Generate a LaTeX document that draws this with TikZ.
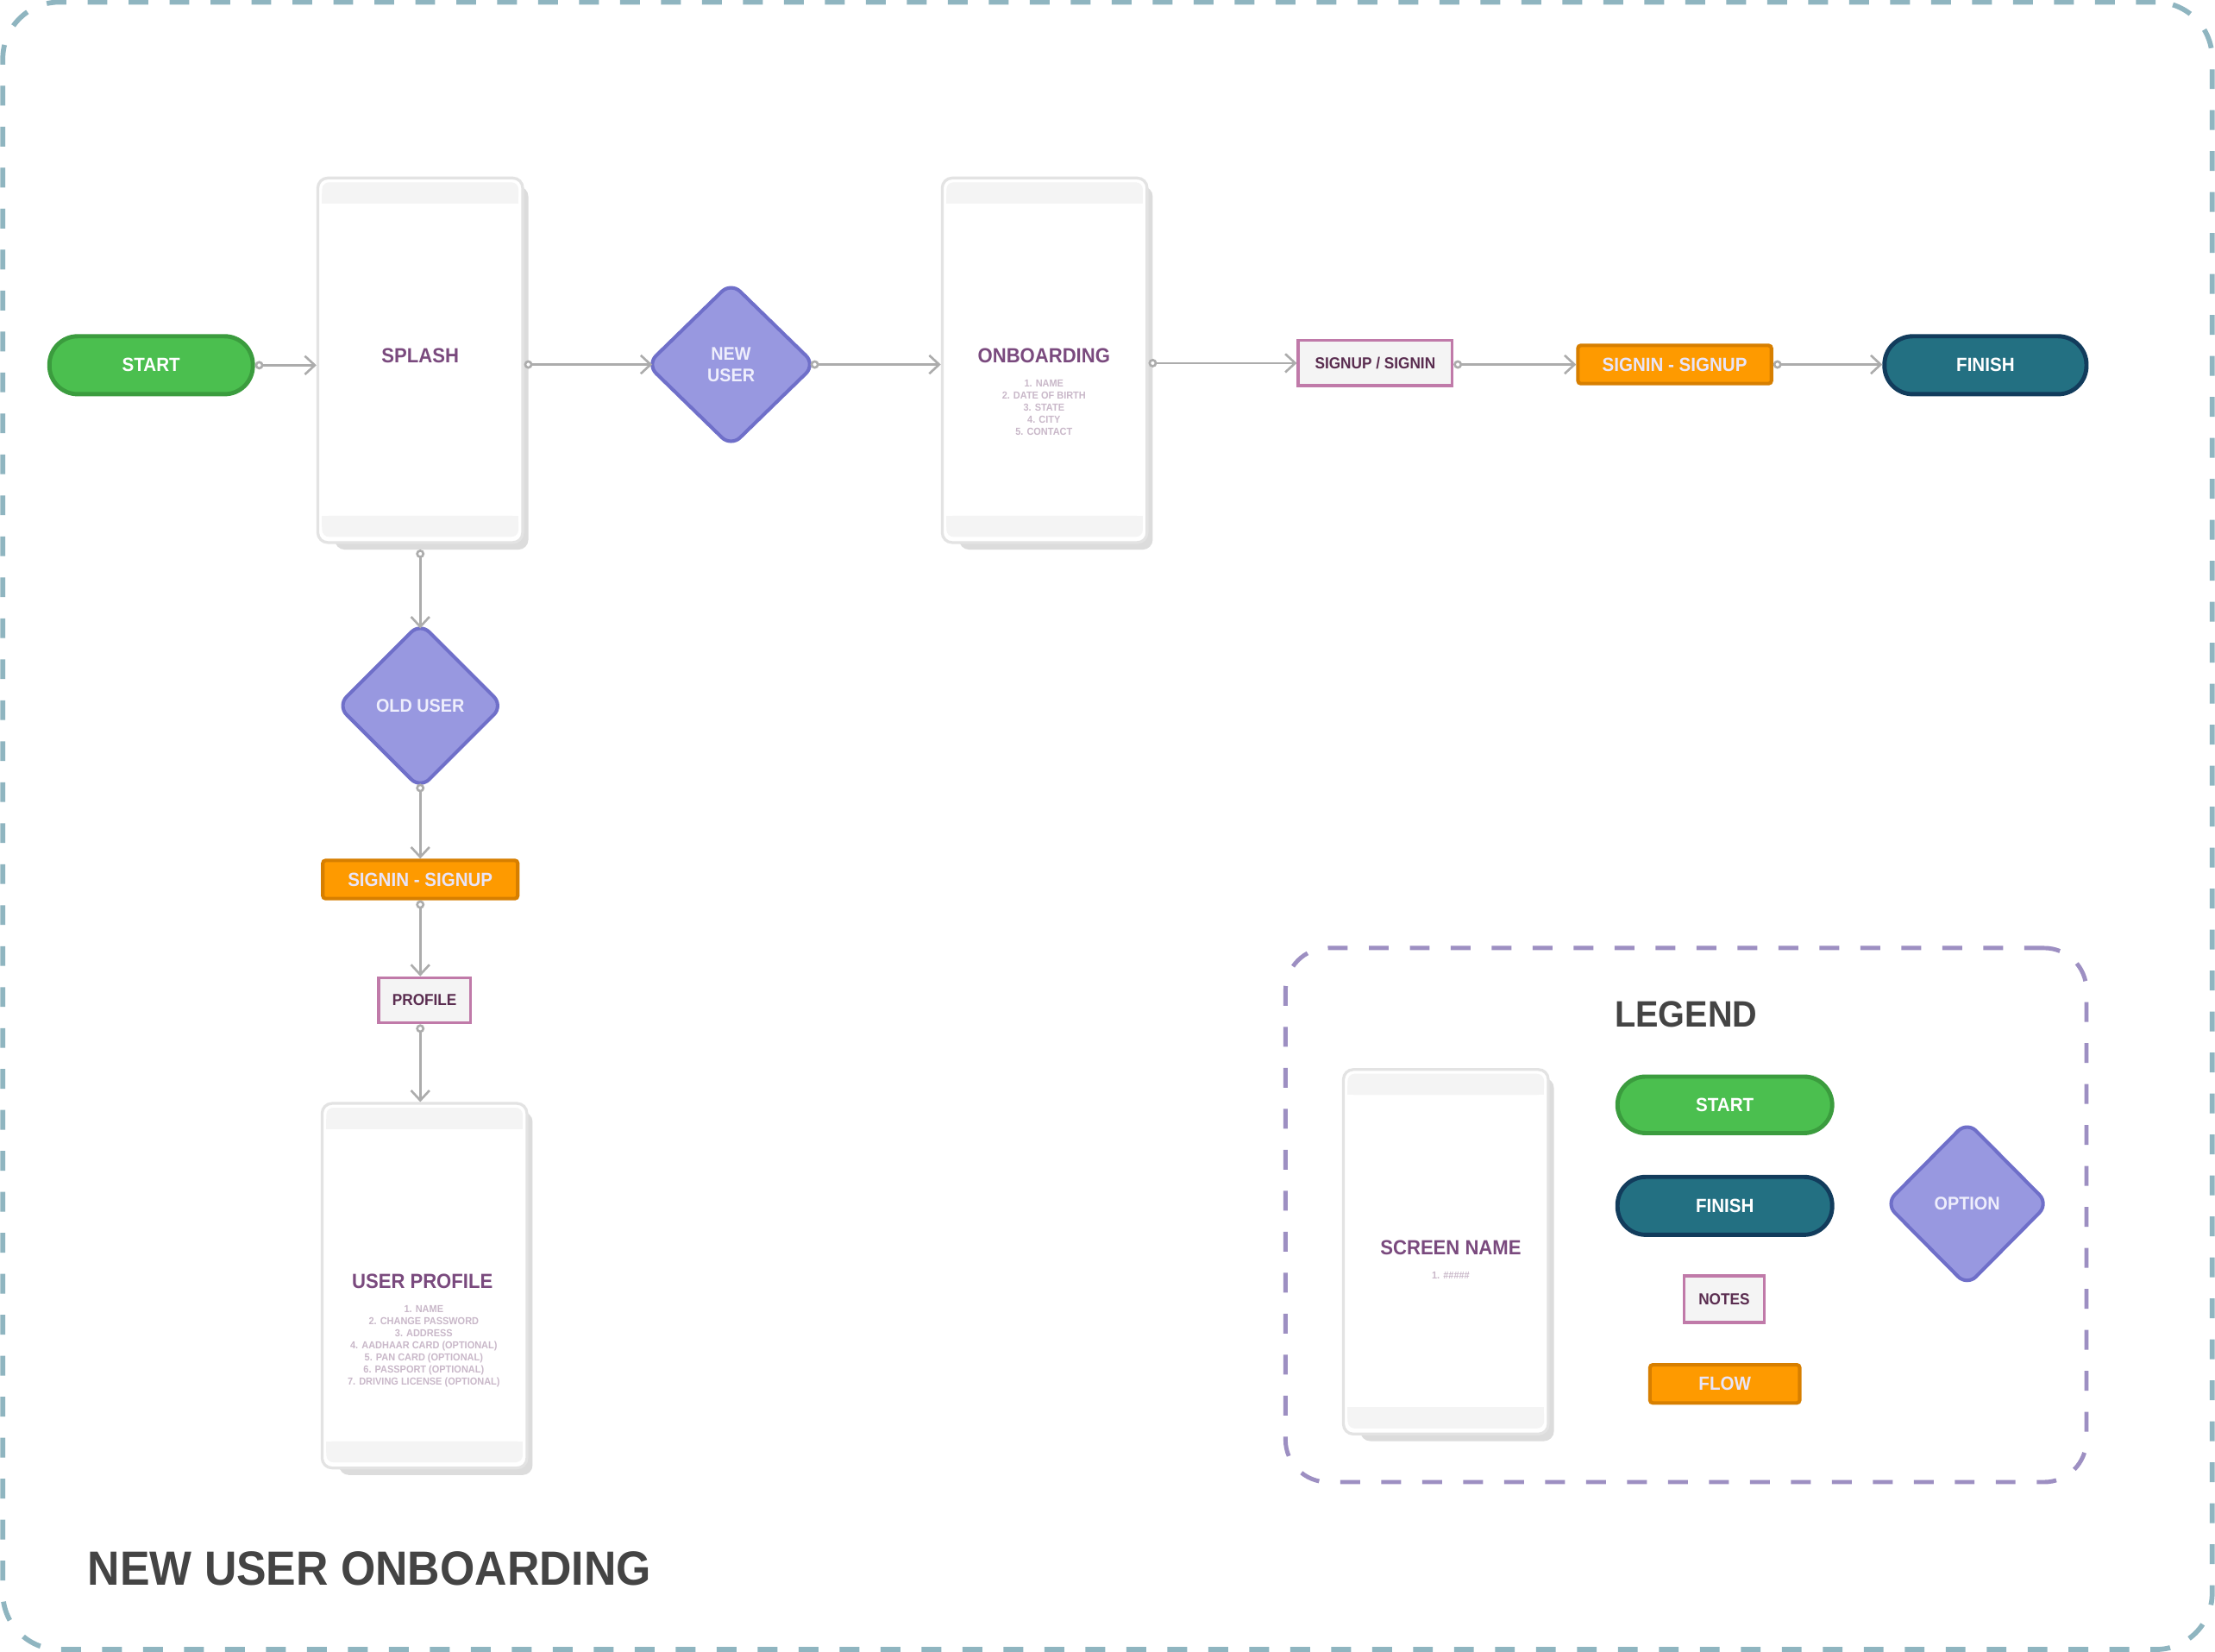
\documentclass[tikz,border=0pt]{standalone}
\usepackage{fontspec}
\setmainfont{Liberation Sans}[FakeStretch=0.93]
\usetikzlibrary{shapes.geometric,arrows.meta,calc,backgrounds}
\definecolor{framecol}{HTML}{8FB5C0}
\definecolor{legcol}{HTML}{9D8FC2}
\definecolor{phoneline}{HTML}{E3E3E3}
\definecolor{barcol}{HTML}{F4F4F4}
\definecolor{shadowcol}{HTML}{DCDCDC}
\definecolor{titlepurple}{HTML}{7A4A7E}
\definecolor{listcol}{HTML}{C9B8C9}
\definecolor{startfill}{HTML}{4BBF4F}
\definecolor{startline}{HTML}{3B9C3E}
\definecolor{finfill}{HTML}{237082}
\definecolor{finline}{HTML}{123C5C}
\definecolor{orfill}{HTML}{FE9A00}
\definecolor{orline}{HTML}{D77F00}
\definecolor{flowtext}{HTML}{E8E4F8}
\definecolor{notefill}{HTML}{F4F4F4}
\definecolor{noteline}{HTML}{C07AA9}
\definecolor{notetext}{HTML}{5A2D50}
\definecolor{optfill}{HTML}{9898E0}
\definecolor{optline}{HTML}{6F6FC9}
\definecolor{opttext}{HTML}{EEEEFC}
\definecolor{conncol}{HTML}{ACACAC}
\definecolor{darktext}{HTML}{444444}
\newcommand\phoneextras[1]{%
  \begin{scope}[on background layer]
    \fill[shadowcol, rounded corners=7pt] ($(#1.north west)+(13,7)$) rectangle ($(#1.south east)+(3,4)$);
  \end{scope}
  \fill[barcol, rounded corners=5pt] ($(#1.north west)+(4,4)$) rectangle ($(#1.north east)+(-4,19)$);
  \fill[barcol] ($(#1.north west)+(4,12)$) rectangle ($(#1.north east)+(-4,19)$);
  \fill[barcol, rounded corners=5pt] ($(#1.south west)+(4,-20)$) rectangle ($(#1.south east)+(-4,-5)$);
  \fill[barcol] ($(#1.south west)+(4,-20)$) rectangle ($(#1.south east)+(-4,-12)$);
}
\begin{document}
\begin{tikzpicture}[x=1pt,y=-1pt,
  phonebox/.style={draw=phoneline, line width=2pt, fill=white, rounded corners=7pt,
    minimum width=145pt, minimum height=258pt, inner sep=0pt},
  screentitle/.style={text=titlepurple, font=\bfseries\fontsize{14.5}{17}\selectfont, inner sep=0pt},
  screenlist/.style={text=listcol, font=\bfseries\fontsize{7.2}{8.5}\selectfont, align=center, inner sep=0pt, anchor=north},
  pillbase/.style={rounded corners=20pt, line width=3pt, text=white,
    font=\bfseries\fontsize{13.5}{16}\selectfont, inner sep=0pt},
  startpill/.style={pillbase, fill=startfill, draw=startline},
  finishpill/.style={pillbase, fill=finfill, draw=finline},
  flowbox/.style={fill=orfill, draw=orline, line width=2.5pt, rounded corners=2pt, text=flowtext,
    font=\bfseries\fontsize{13.5}{16}\selectfont, minimum height=27pt, inner sep=0pt},
  notebox/.style={fill=notefill, draw=noteline, line width=2pt, text=notetext,
    font=\bfseries\fontsize{11.3}{13}\selectfont, minimum height=32pt, inner sep=0pt},
  optdiamond/.style={diamond, fill=optfill, draw=optline, line width=2.5pt, rounded corners=9pt,
    text=opttext, font=\bfseries\fontsize{13}{15}\selectfont, align=center, inner sep=0pt},
  connflow/.style={draw=conncol, line width=1.6pt,
    {Circle[open,length=6pt,width=6pt,fill=white]}-{Straight Barb[length=7pt,width=13pt]}},
  dashframe/.style={dash pattern=on 14pt off 15pt, line width=3.5pt}
]
\begin{scope}[on background layer]
  \fill[white] (0,0) rectangle (1568,1169);
\end{scope}
\useasboundingbox (0,0) rectangle (1568,1169);

% outer frame
\node[draw=framecol, dashframe, rounded corners=40pt, minimum width=1564pt, minimum height=1166pt, inner sep=0pt]
  (frame) at (784,584.5) {};

% main flow nodes
\node[startpill, minimum width=144pt, minimum height=41pt] (start) at (107,258.5) {START};
\node[phonebox] (splash) at (297.5,255) {};
\phoneextras{splash}
\node[screentitle] (splasht) at (297.5,252) {SPLASH};

\node[optdiamond, minimum width=120pt, minimum height=117pt] (newuser) at (517.5,258) {NEW\\USER};

\node[phonebox] (onboard) at (739.5,255) {};
\phoneextras{onboard}
\node[screentitle] (onboardt) at (739,252) {ONBOARDING};
\node[screenlist] (onboardl) at (739,269) {1. NAME\\2. DATE OF BIRTH\\3. STATE\\4. CITY\\5. CONTACT};

\node[notebox, minimum width=109pt] (signup) at (973.5,257) {SIGNUP / SIGNIN};
\node[flowbox, minimum width=137pt] (flowa) at (1185.5,258) {SIGNIN - SIGNUP};
\node[finishpill, minimum width=143pt, minimum height=41pt] (finish) at (1405.5,258.5) {FINISH};

\node[optdiamond, minimum width=118pt, minimum height=118pt] (olduser) at (297.5,499.5) {OLD USER};
\node[flowbox, minimum width=138pt] (flowb) at (297.5,622.5) {SIGNIN - SIGNUP};
\node[notebox, minimum width=65pt] (profile) at (300.5,708) {PROFILE};

\node[phonebox] (uprofile) at (300.5,910) {};
\phoneextras{uprofile}
\node[screentitle] (uprofilet) at (299,907) {USER PROFILE};
\node[screenlist] (uprofilel) at (300,924) {1. NAME\\2. CHANGE PASSWORD\\3. ADDRESS\\4. AADHAAR CARD (OPTIONAL)\\5. PAN CARD (OPTIONAL)\\6. PASSPORT (OPTIONAL)\\7. DRIVING LICENSE (OPTIONAL)};

% connectors
\draw[connflow] (start.east) -- (start.east -| splash.west);
\draw[connflow, shorten >=-5.5pt] (newuser.west -| splash.east) -- (newuser.west);
\draw[connflow, shorten <=-5pt] (newuser.east) -- (newuser.east -| onboard.west);
\draw[connflow] (signup.west -| onboard.east) -- (signup.west);
\draw[connflow] (signup.east |- flowa.west) -- (flowa.west);
\draw[connflow] (flowa.east) -- (flowa.east -| finish.west);
\draw[connflow, shorten >=-5.5pt] ([yshift=-4pt]splash.south) -- (olduser.north);
\draw[connflow, shorten <=-5pt] (olduser.south) -- (olduser.south |- flowb.north);
\draw[connflow] (flowb.south) -- (flowb.south |- profile.north);
\draw[connflow] (profile.south -| flowb.south) -- (flowb.south |- uprofile.north);

% legend
\node[draw=legcol, dashframe, line width=3pt, rounded corners=30pt, minimum width=567pt, minimum height=378pt, inner sep=0pt]
  (legend) at (1193.5,860) {};
\node[text=darktext, font=\bfseries\fontsize{26}{30}\selectfont, inner sep=0pt] (legendt) at (1193.5,718) {LEGEND};
\node[phonebox] (lscreen) at (1023.5,886) {};
\phoneextras{lscreen}
\node[screentitle] (lscreent) at (1027,883) {SCREEN NAME};
\node[screenlist] (lscreenl) at (1027,900) {1. \#\#\#\#\#};
\node[startpill, minimum width=152pt, minimum height=40pt] (lstart) at (1221,782) {START};
\node[finishpill, minimum width=152pt, minimum height=41pt] (lfinish) at (1221,853.5) {FINISH};
\node[notebox, minimum width=57pt, minimum height=33pt] (lnotes) at (1220.5,919.5) {NOTES};
\node[flowbox, minimum width=106pt] (lflow) at (1221,979.5) {FLOW};
\node[optdiamond, minimum width=116pt, minimum height=117pt] (loption) at (1392.5,852) {OPTION};

% title
\node[anchor=west, text=darktext, font=\bfseries\fontsize{34}{40}\selectfont, inner sep=0pt]
  (title) at (62,1110) {NEW USER ONBOARDING};
\end{tikzpicture}
\end{document}
